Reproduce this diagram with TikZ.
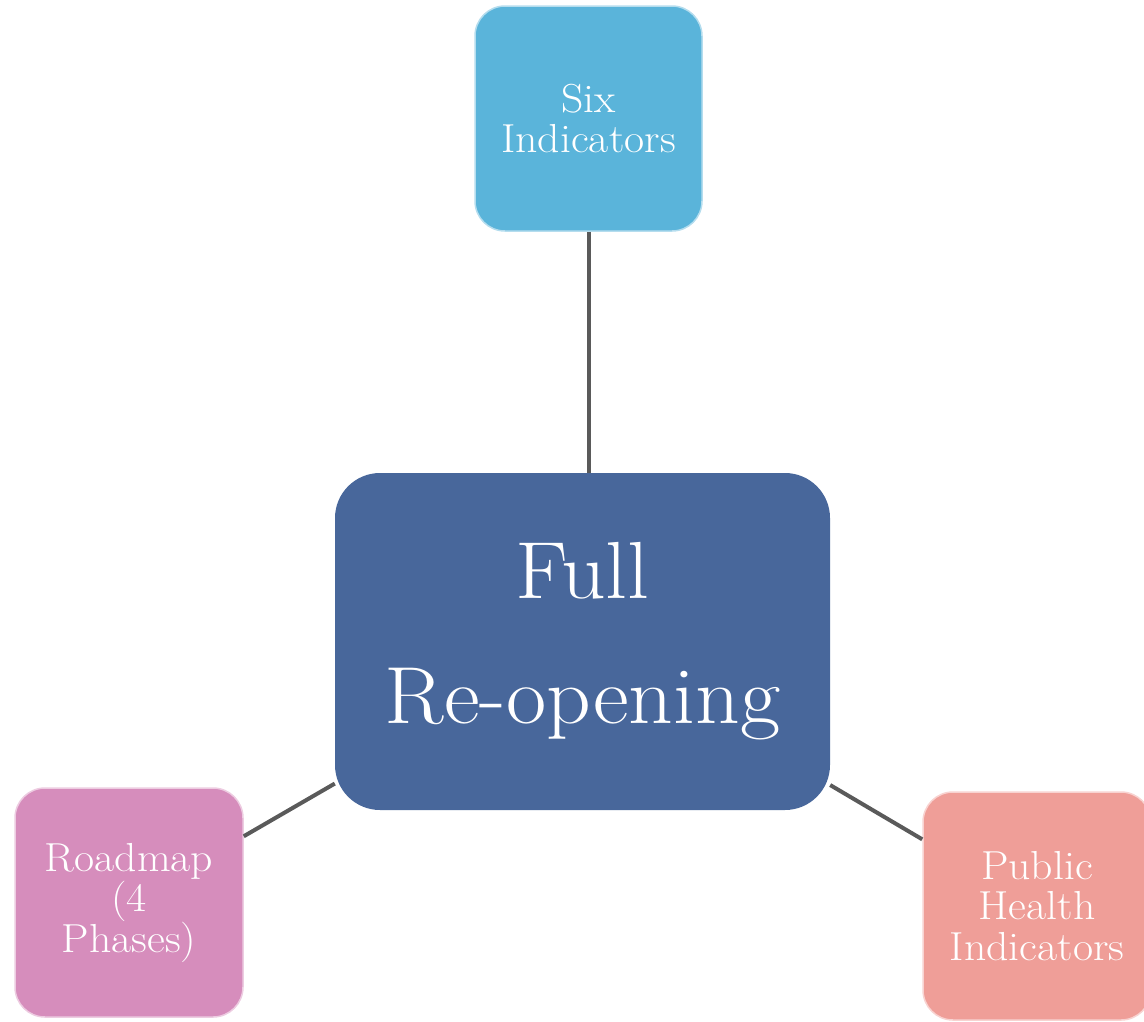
\documentclass[tikz,border=0pt]{standalone}
\usepackage{fontspec}
\setmainfont{Latin Modern Roman}[FakeStretch=1.08]
\definecolor{topblue}{HTML}{5AB4DA}
\definecolor{midblue}{HTML}{48679B}
\definecolor{pinkbox}{HTML}{D68DBC}
\definecolor{salmon}{HTML}{EF9E98}
\definecolor{linkgray}{HTML}{5A5A5A}
\tikzset{
  smallbox/.style={rectangle, rounded corners=30pt, minimum width=227pt, minimum height=225pt,
    text=white, align=center, font=\fontsize{40.5}{40.5}\selectfont, line width=1.5pt, inner sep=0pt},
  bigbox/.style={rectangle, rounded corners=45pt, minimum width=495pt, minimum height=337pt,
    text=white, align=center, font=\fontsize{81}{125}\selectfont, inner sep=0pt},
  link/.style={draw=linkgray, line width=4pt}
}
\begin{document}
\begin{tikzpicture}[x=1pt,y=1pt]
\useasboundingbox (0,0) rectangle (1144,-1021);
\node[smallbox, fill=topblue, draw=topblue!45!white] (six) at (588.5,-118.5) {Six\\Indicators};
\node[bigbox, fill=midblue] (full) at (582.5,-641.5) {Full\\Re-opening};
\node[smallbox, fill=pinkbox, draw=pinkbox!45!white, minimum width=228pt, minimum height=229pt] (road) at (129,-902.5) {Roadmap\\(4\\Phases)};
\node[smallbox, fill=salmon, draw=salmon!45!white, minimum width=228pt, minimum height=228pt] (pub) at (1037,-906) {Public\\Health\\Indicators};
\draw[link] (six.south) -- (six.south |- full.north);
\draw[link] (road) -- (full);
\draw[link] (full) -- (pub);
\end{tikzpicture}
\end{document}
